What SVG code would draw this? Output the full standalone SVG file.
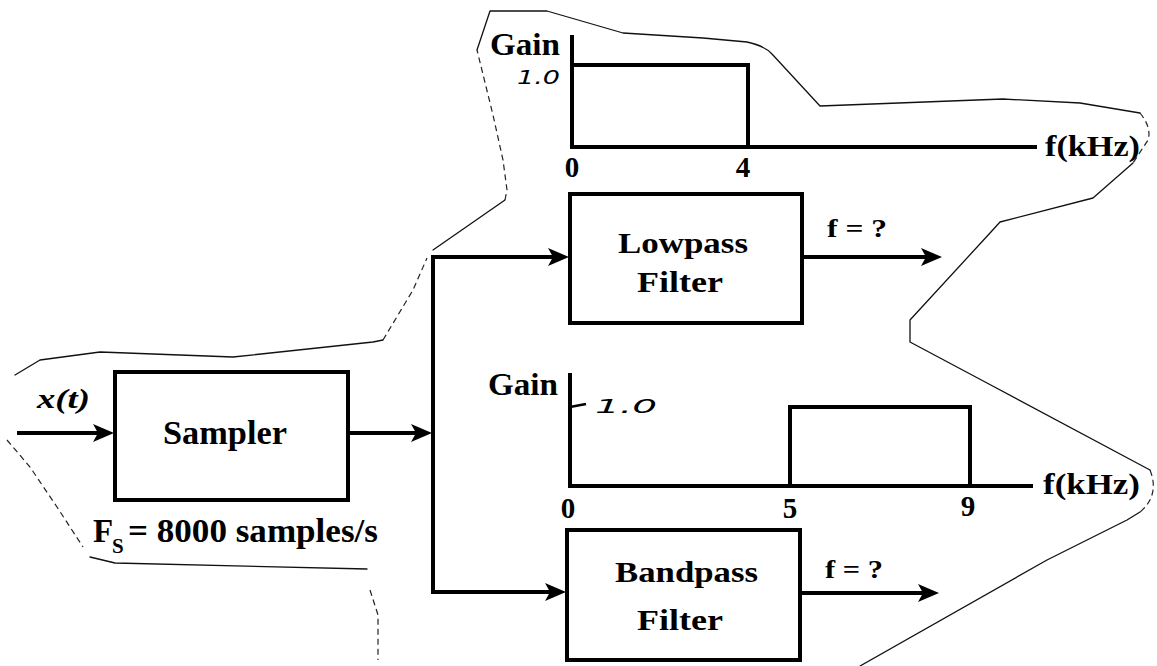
<svg xmlns="http://www.w3.org/2000/svg" width="1157" height="666" viewBox="0 0 1157 666">
<style>
.box{fill:#fff;stroke:#000;stroke-width:4}
.ln{fill:none;stroke:#000;stroke-width:4}
.cn{fill:none;stroke:#000;stroke-width:4}
.t{font-family:"Liberation Serif","Times New Roman",Times,serif;font-weight:700;fill:#000}
.hw{font-family:"DejaVu Sans","Liberation Sans",sans-serif;font-style:italic;fill:#000}
.ol{fill:none;stroke:#111;stroke-width:1.3;stroke-linejoin:round;stroke-linecap:round}
.old{fill:none;stroke:#222;stroke-width:1.2;stroke-dasharray:6 4}
</style>
<defs>
<marker id="ah" markerUnits="userSpaceOnUse" markerWidth="22" markerHeight="18" refX="11" refY="9" orient="auto">
<path d="M0,0 L21,9 L0,18 L5,9 z" fill="#000"/>
</marker>
</defs>
<rect width="1157" height="666" fill="#fff"/>

<g id="outline">
<path class="ol" d="M15,375 L40,360 L100,352 L233,357 L373,342 L383,340"/>
<path class="old" d="M383,340 L413,290 L427,258"/>
<path class="ol" d="M433,250 L505,200"/>
<path class="old" d="M505,200 L507,190 L503,160 L493,115 L477,50"/>
<path class="ol" d="M477,50 L490,11 L547,11 L623,33 L703,38 L747,42 Q765,46 772,54 L820,106 L1003,99 L1080,103 L1140,113"/>
<path class="old" d="M1140,113 Q1152,128 1148,140 L1133,163"/>
<path class="ol" d="M1133,163 L1093,198 L1000,222 L990,233 L910,320 L910,342 L987,383 L1150,470"/>
<path class="old" d="M1150,470 Q1160,495 1140,512"/>
<path class="ol" d="M1140,512 L1127,520 L1047,560 L860,666"/>
<path class="old" d="M7,440 L30,467 L57,507 L83,547"/>
<path class="ol" d="M90,557 L115,563 L367,569"/>
<path class="old" d="M370,590 L378,615 L378,660"/>
</g>

<g id="lowpass-response">
<path class="ln" d="M572,35 L572,147"/>
<path class="ln" d="M572,65 L748,65 L748,147"/>
<path class="ln" d="M570,147 L1037,147"/>
<text class="t" x="490" y="55" font-size="32" textLength="70" lengthAdjust="spacingAndGlyphs">Gain</text>
<text class="hw" x="517" y="84" font-size="20" textLength="43" lengthAdjust="spacingAndGlyphs">1.0</text>
<text class="t" x="572" y="177" font-size="29" text-anchor="middle">0</text>
<text class="t" x="743" y="177" font-size="29" text-anchor="middle">4</text>
<text class="t" x="1045" y="156" font-size="29" textLength="95" lengthAdjust="spacingAndGlyphs">f(kHz)</text>
</g>

<g id="bandpass-response">
<path class="ln" d="M570,373 L570,486"/>
<path class="ln" d="M790,486 L790,407 L970,407 L970,486"/>
<path class="ln" d="M568,486 L1033,486"/>
<path fill="none" stroke="#000" stroke-width="2.5" d="M570,407 L586,404"/>
<text class="t" x="488" y="395" font-size="32" textLength="70" lengthAdjust="spacingAndGlyphs">Gain</text>
<text class="hw" x="595" y="413" font-size="20" textLength="62" lengthAdjust="spacingAndGlyphs">1.0</text>
<text class="t" x="568" y="518" font-size="29" text-anchor="middle">0</text>
<text class="t" x="790" y="518" font-size="29" text-anchor="middle">5</text>
<text class="t" x="968" y="516" font-size="29" text-anchor="middle">9</text>
<text class="t" x="1043" y="494" font-size="29" textLength="97" lengthAdjust="spacingAndGlyphs">f(kHz)</text>
</g>

<g id="sampler">
<rect class="box" x="115" y="372" width="233" height="128"/>
<text class="t" x="163" y="444" font-size="33" textLength="124" lengthAdjust="spacingAndGlyphs">Sampler</text>
<text class="t" x="37" y="408" font-size="28" font-style="italic" textLength="53" lengthAdjust="spacingAndGlyphs">x(t)</text>
<text class="t" x="93" y="542" font-size="33">F</text>
<text class="t" x="112" y="553" font-size="21">S</text>
<text class="t" x="128" y="542" font-size="33" textLength="250" lengthAdjust="spacingAndGlyphs">= 8000 samples/s</text>
</g>

<g id="lowpass">
<rect class="box" x="570" y="194" width="232" height="129"/>
<text class="t" x="618" y="253" font-size="30" textLength="130" lengthAdjust="spacingAndGlyphs">Lowpass</text>
<text class="t" x="637" y="292" font-size="30" textLength="86" lengthAdjust="spacingAndGlyphs">Filter</text>
<text class="t" x="827" y="237" font-size="25" textLength="60" lengthAdjust="spacingAndGlyphs">f = ?</text>
</g>

<g id="bandpass">
<rect class="box" x="567" y="530" width="233" height="130"/>
<text class="t" x="615" y="582" font-size="30" textLength="143" lengthAdjust="spacingAndGlyphs">Bandpass</text>
<text class="t" x="637" y="630" font-size="30" textLength="86" lengthAdjust="spacingAndGlyphs">Filter</text>
<text class="t" x="825" y="578" font-size="25" textLength="58" lengthAdjust="spacingAndGlyphs">f = ?</text>
</g>

<g id="connectors">
<path class="cn" d="M17,433 L104,433" marker-end="url(#ah)"/>
<path class="cn" d="M348,433 L422,433" marker-end="url(#ah)"/>
<path class="cn" d="M433,257 L433,592 L556,592" marker-end="url(#ah)"/>
<path class="cn" d="M431,257 L559,257" marker-end="url(#ah)"/>
<path class="cn" d="M802,257 L932,257" marker-end="url(#ah)"/>
<path class="cn" d="M800,593 L929,593" marker-end="url(#ah)"/>
</g>
</svg>
